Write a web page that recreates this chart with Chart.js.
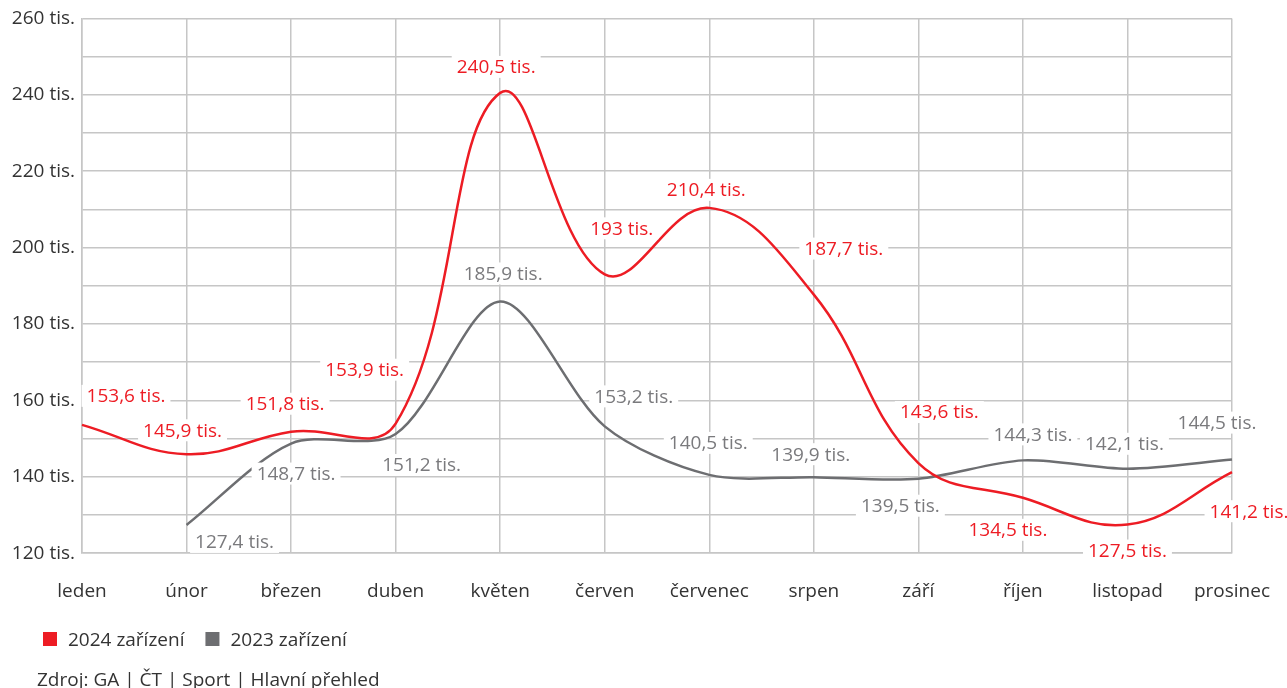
<!DOCTYPE html>
<html lang="cs">
<head>
<meta charset="utf-8">
<script src="https://cdn.jsdelivr.net/npm/chart.js@4.4.1/dist/chart.umd.min.js"></script>
<style>
  html, body { margin: 0; padding: 0; background: #fff; }
  #wrap { width: 1287px; height: 688px; overflow: hidden; }
</style>
</head>
<body>
<div id="wrap"><canvas id="chart" width="1287" height="688"></canvas></div>
<script>
// data (tis. zařízení)
const months = ['leden', 'únor', 'březen', 'duben', 'květen', 'červen', 'červenec', 'srpen', 'září', 'říjen', 'listopad', 'prosinec']
const devices2024 = [153.6, 145.9, 151.8, 153.9, 240.5, 193, 210.4, 187.7, 143.6, 134.5, 127.5, 141.2]
const devices2023 = [null, 127.4, 148.7, 151.2, 185.9, 153.2, 140.5, 139.9, 139.5, 144.3, 142.1, 144.5]
const seriesNames = ['2024 zařízení', '2023 zařízení']
const sourceText = 'Zdroj: GA | ČT | Sport | Hlavní přehled'

const RED = '#ed1c24'
const GRAY = '#6d6e71'
const GRID = '#c6c6c6'
const FONT = '"Open Sans", "Noto Sans", sans-serif'
const FS = 19

// posun popisků od bodu [dx, dy]
const labelShift = [
    [[44, -29], [-4, -24], [-6, -28], [-31, -54], [-4, -26], [17, -46], [-3, -18], [30, -46], [21, -51], [-15, 32], [0, 26], [17, 39]],
    [[0, 0], [48, 17], [5, 30], [26, 31], [3, -28], [29, -30], [-1, -32], [-3, -23], [-18, 27], [10, -26], [-3, -25], [-15, -37]]
]
const labelColors = [RED, '#7a7a7d']

function fmt(v) {
    return String(v).replace('.', ',') + ' tis.'
}

const valueLabels = { // popisky hodnot s bílým podkladem
    id: 'valueLabels',
    afterDatasetsDraw(chart) {
        const ctx = chart.ctx
        ctx.save()
        ctx.font = FS + 'px ' + FONT
        ctx.textAlign = 'center'
        ctx.textBaseline = 'middle'
        for (let d = chart.data.datasets.length - 1; d >= 0; d--) {
            const meta = chart.getDatasetMeta(d)
            const values = chart.data.datasets[d].data
            meta.data.forEach((pt, i) => {
                if (values[i] === null) return
                const text = fmt(values[i])
                const x = pt.x + labelShift[d][i][0]
                const y = pt.y + labelShift[d][i][1]
                const w = ctx.measureText(text).width
                ctx.fillStyle = '#fff'
                ctx.fillRect(x - w / 2 - 5, y - 11, w + 10, 22)
                ctx.fillStyle = labelColors[d]
                ctx.fillText(text, x, y + 1)
            })
        }
        ctx.restore()
    }
}

const legendAndSource = { // legenda a zdroj pod grafem
    id: 'legendAndSource',
    afterDraw(chart) {
        const ctx = chart.ctx
        ctx.save()
        ctx.font = FS + 'px ' + FONT
        ctx.textBaseline = 'alphabetic'
        let x = 43
        chart.data.datasets.forEach((ds, i) => {
            ctx.fillStyle = ds.borderColor
            ctx.fillRect(x, 632, 14, 14)
            ctx.fillStyle = '#333'
            ctx.fillText(seriesNames[i], x + 25, 646)
            x += 25 + ctx.measureText(seriesNames[i]).width + 21
        })
        ctx.fillText(sourceText, 37, 686)
        ctx.restore()
    }
}

new Chart(document.getElementById('chart'), {
    type: 'line',
    data: {
        labels: months,
        datasets: [
            {
                label: seriesNames[0],
                data: devices2024,
                borderColor: RED,
                backgroundColor: RED,
                borderWidth: 2.5,
                tension: 0.4,
                pointRadius: 0
            },
            {
                label: seriesNames[1],
                data: devices2023,
                borderColor: GRAY,
                backgroundColor: GRAY,
                borderWidth: 2.5,
                tension: 0.3,
                pointRadius: 0
            }
        ]
    },
    options: {
        responsive: false,
        animation: false,
        devicePixelRatio: 1,
        layout: {padding: {top: 18, right: 55, bottom: 58, left: 0}},
        plugins: {
            legend: {display: false},
            tooltip: {enabled: false}
        },
        scales: {
            x: {
                offset: false,
                afterFit(scale) {
                    scale.paddingLeft = 0
                    scale.paddingRight = 0
                },
                grid: {color: GRID, lineWidth: 1.5, drawTicks: false},
                border: {color: GRID, width: 1.5},
                ticks: {
                    color: '#333',
                    font: {family: FONT, size: FS},
                    padding: 27,
                    maxRotation: 0,
                    autoSkip: false
                }
            },
            y: {
                min: 120,
                max: 260,
                afterFit(scale) {
                    scale.width = 82
                },
                grid: {color: GRID, lineWidth: 1.5, drawTicks: false},
                border: {color: GRID, width: 1.5},
                ticks: {
                    stepSize: 10,
                    color: '#333',
                    font: {family: FONT, size: FS},
                    padding: 7,
                    callback: v => (v % 20 === 0 ? v + ' tis.' : '')
                }
            }
        }
    },
    plugins: [valueLabels, legendAndSource]
})
</script>
</body>
</html>
